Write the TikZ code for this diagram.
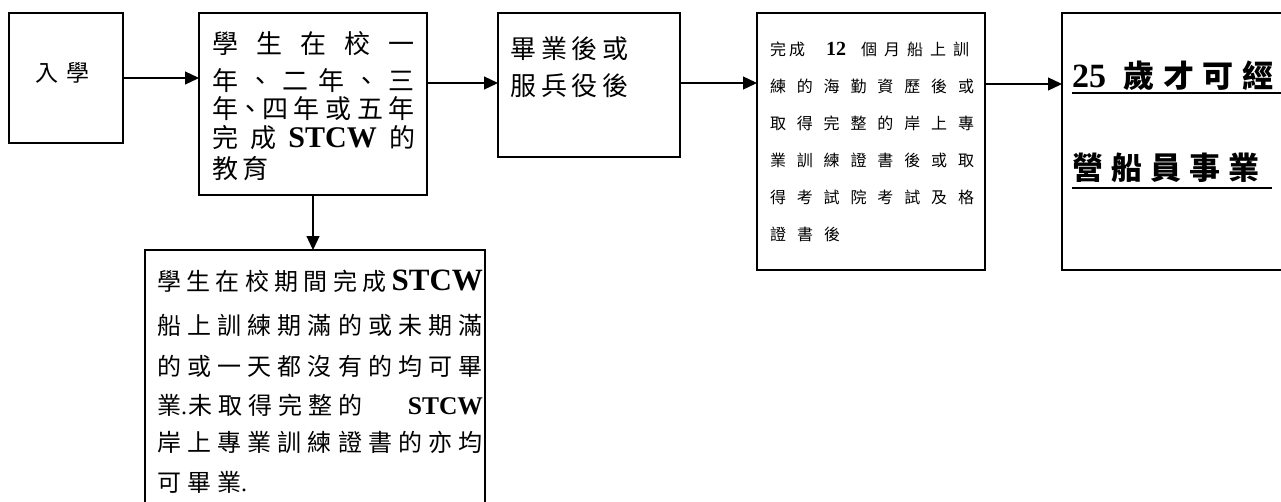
\documentclass[tikz,border=0pt]{standalone}
\usepackage{fontspec}
\setmainfont{Noto Sans CJK TC}
\newfontfamily\lserif{Liberation Serif}
\usetikzlibrary{arrows.meta}
\makeatletter
\newcommand\JL[2]{\makebox[#1][s]{\@tempswafalse\@tfor\jx:=#2\do{\if@tempswa\hfil\fi\@tempswatrue\jx}}}
\newcommand\NL[2]{\mbox{\@tempswafalse\@tfor\jx:=#2\do{\if@tempswa\hspace{#1}\fi\@tempswatrue\jx}}}
\makeatother
\newcommand\fs[1]{\fontsize{#1pt}{#1pt}\selectfont}
\newcommand\B[2]{{\fs{#1}\lserif\bfseries #2}}
\begin{document}
\begin{tikzpicture}[x=1pt,y=-1pt,
  box/.style={draw, line width=1.8pt, inner sep=0pt, outer sep=0pt},
  arr/.style={line width=1.3pt, -{Triangle[length=14pt,width=13pt]}},
  txt/.style={anchor=base west, inner sep=0pt, outer sep=0pt},
  uline/.style={line width=2pt}]
\clip (0,0) rectangle (1281,501);
\fill[white] (0,0) rectangle (1281,501);
% boxes
\node[box, minimum width=114pt, minimum height=130pt] (b1) at (66,78) {};
\node[box, minimum width=228pt, minimum height=182pt] (b2) at (313,104) {};
\node[box, minimum width=182pt, minimum height=144pt] (b3) at (589,85) {};
\node[box, minimum width=228pt, minimum height=257pt] (b4) at (871,141.5) {};
\node[box, minimum width=238pt, minimum height=257pt] (b5) at (1181,141.5) {};
\node[box, minimum width=340pt, minimum height=282pt] (b6) at (315,391) {};
% helper rows for the connectors
\coordinate (r2) at (0,83);
\coordinate (r4) at (0,84);
% connectors
\draw[arr] (b1.east) -- (b1.east -| b2.west);
\draw[arr] (b2.east |- r2) -- (b3.west |- r2);
\draw[arr] (b3.east |- r2) -- (b4.west |- r2);
\draw[arr] (b4.east |- r4) -- (b5.west |- r4);
\draw[arr] (b2.south) -- (b2.south |- b6.north);
% box 1
\node[txt, font=\fs{23}] (t11) at (35,81) {\NL{9pt}{入學}};
% box 2
\node[txt, font=\fs{26}] (t21) at (212,53.5) {\JL{203pt}{學生在校一}};
\node[txt, font=\fs{26}] (t22) at (212,90) {\JL{203pt}{年、二年、三}};
\node[txt, font=\fs{26}] (t23) at (212,118.5) {\JL{203pt}{年{\makebox[13pt][c]{、}}四年或五年}};
\node[txt, font=\fs{26}] (t24) at (212,147.5) {\JL{203pt}{完成{\B{30}{STCW}}的}};
\node[txt, font=\fs{26}] (t25) at (212,178.5) {\NL{5pt}{教育}};
% box 3
\node[txt, font=\fs{26}] (t31) at (510,58) {\NL{5pt}{畢業後或}};
\node[txt, font=\fs{26}] (t32) at (510,95) {\NL{5pt}{服兵役後}};
% box 4
\node[txt, font=\fs{16}] (t41) at (770,55) {完\hspace{3pt}成\hspace{21pt}{\B{20}{12}}\hspace{15pt}個\hspace{7pt}月\hspace{7pt}船\hspace{7pt}上\hspace{7pt}訓};
\node[txt, font=\fs{16}] (t42) at (770,92) {\JL{204pt}{練的海勤資歷後或}};
\node[txt, font=\fs{16}] (t43) at (770,129) {\JL{204pt}{取得完整的岸上專}};
\node[txt, font=\fs{16}] (t44) at (770,166) {\JL{204pt}{業訓練證書後或取}};
\node[txt, font=\fs{16}] (t45) at (770,203) {\JL{204pt}{得考試院考試及格}};
\node[txt, font=\fs{16}] (t46) at (770,240) {\NL{11pt}{證書後}};
% box 5
\node[txt, font=\fs{31}\bfseries] (t51) at (1072,87) {{\B{34}{25}}\hspace{17pt}歲\hspace{9pt}才\hspace{9pt}可\hspace{9pt}經};
\node[txt, font=\fs{31}\bfseries] (t52) at (1072,179) {\NL{8pt}{營船員事業}};
\draw[uline] (t51.base west) ++(0,6) -- ++(230,0);
\draw[uline] (t52.base west) ++(0,9) -- ++(200,0);
% box 6
\node[txt, font=\fs{24}] (t61) at (157,290) {\JL{326pt}{學生在校期間完成{\B{31}{STCW}}}};
\node[txt, font=\fs{24}] (t62) at (157,334) {\JL{326pt}{船上訓練期滿的或未期滿}};
\node[txt, font=\fs{24}] (t63) at (157,375) {\JL{326pt}{的或一天都沒有的均可畢}};
\node[txt, font=\fs{24}] (t64) at (157,414) {\makebox[326pt][s]{業{\lserif.}\hspace{1pt}未\hspace{6pt}取\hspace{6pt}得\hspace{6pt}完\hspace{6pt}整\hspace{6pt}的\hfill{\B{25.5}{STCW}}}};
\node[txt, font=\fs{24}] (t65) at (157,451) {\JL{326pt}{岸上專業訓練證書的亦均}};
\node[txt, font=\fs{24}] (t66) at (157,491) {可\hspace{6pt}畢\hspace{6pt}業{\lserif.}};
\end{tikzpicture}
\end{document}
